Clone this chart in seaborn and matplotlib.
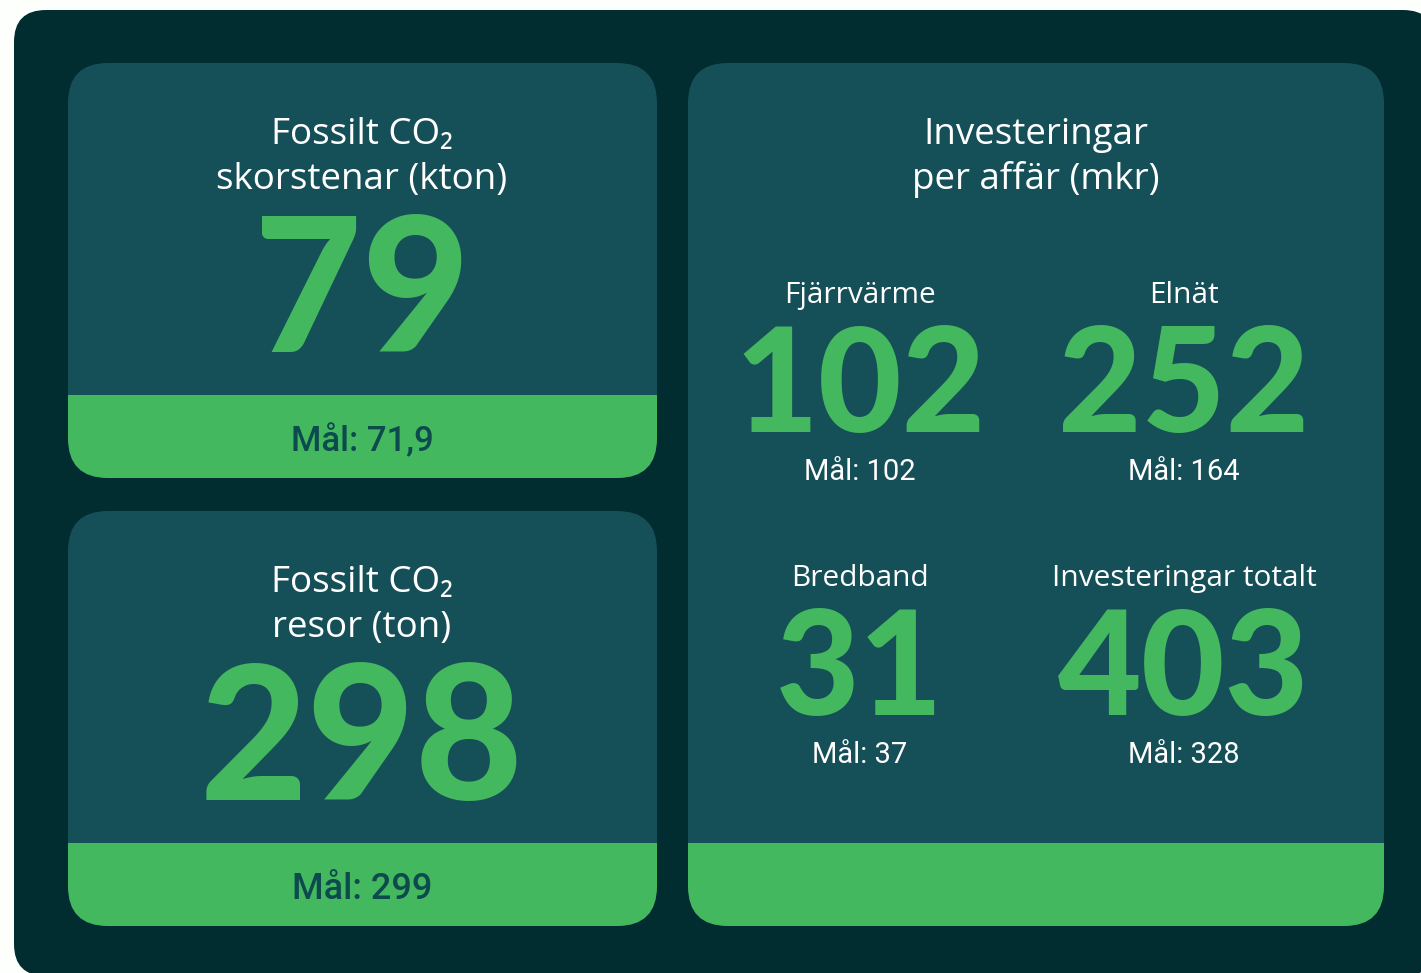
#import libraries
import matplotlib
matplotlib.use('Agg')
import matplotlib.pyplot as plt
import seaborn as sns
from matplotlib.patches import FancyBboxPatch, Rectangle

#data
co2_titles = [['Fossilt CO\u2082', 'skorstenar (kton)'], ['Fossilt CO\u2082', 'resor (ton)']]
co2_values = ['79', '298']
co2_goals = ['Mål: 71,9', 'Mål: 299']
inv_title = ['Investeringar', 'per affär (mkr)']
inv_labels = ['Fjärrvärme', 'Elnät', 'Bredband', 'Investeringar totalt']
inv_values = ['102', '252', '31', '403']
inv_goals = ['Mål: 102', 'Mål: 164', 'Mål: 37', 'Mål: 328']

#colors
bg = '#fcfffc'
dark = '#012d30'
card = '#154f58'
green = '#43b85e'
goal_dark = '#0d4a4e'

sns.set_theme(style='white')
plt.rcParams['font.family'] = ['Lato', 'DejaVu Sans']

fig = plt.figure(figsize=(14.21, 9.73), dpi=100, facecolor=bg)
ax = fig.add_axes([0, 0, 1, 1])
ax.set_xlim(0, 1421)
ax.set_ylim(973, 0)
ax.axis('off')
ax.set_facecolor(bg)

#outer panel
ax.add_patch(FancyBboxPatch((14, 10), 1421, 966, boxstyle='round,pad=0,rounding_size=32',
                            fc=dark, ec='none'))


def add_card(x0, y0, x1, y1, band_top):
    p = FancyBboxPatch((x0, y0), x1 - x0, y1 - y0, boxstyle='round,pad=0,rounding_size=40',
                       fc=card, ec='none')
    ax.add_patch(p)
    band = Rectangle((x0, band_top), x1 - x0, y1 - band_top, fc=green, ec='none')
    ax.add_patch(band)
    band.set_clip_path(p)


cards = [(68, 63, 657, 478, 395), (68, 511, 657, 926, 843), (688, 63, 1384, 926, 843)]
for c in cards:
    add_card(*c)

title_font = ['Open Sans', 'DejaVu Sans']
title_kw = dict(color='white', fontsize=26.5, ha='center', va='baseline', family=title_font)
big_kw = dict(color=green, fontweight='black', ha='center', va='baseline')
goal_font = ['Roboto', 'DejaVu Sans']

#left cards
tops = [0, 448]
for i in range(2):
    t = tops[i]
    ax.text(362, 144 + t, co2_titles[i][0], **title_kw)
    ax.text(362, 189 + t, co2_titles[i][1], **title_kw)
    ax.text(362, 352 + t, co2_values[i], fontsize=134, **big_kw)
    ax.text(362, 451 + t, co2_goals[i], color=goal_dark, fontsize=25 + i, ha='center',
            va='baseline', family=goal_font, fontweight='medium')

#right card
ax.text(1036, 144, inv_title[0], **title_kw)
ax.text(1036, 189, inv_title[1], **title_kw)
xs = [860, 1184, 860, 1184]
rows = [0, 283]
for i in range(4):
    dy = rows[i // 2]
    ax.text(xs[i], 303 + dy, inv_labels[i], color='white', fontsize=21.5, ha='center',
            va='baseline', family=title_font)
    ax.text(xs[i], 432 + dy, inv_values[i], fontsize=104, **big_kw)
    ax.text(xs[i], 480 + dy, inv_goals[i], color='white', fontsize=21, ha='center',
            va='baseline', family=goal_font)

fig.savefig('out.png', dpi=100, facecolor=bg)
